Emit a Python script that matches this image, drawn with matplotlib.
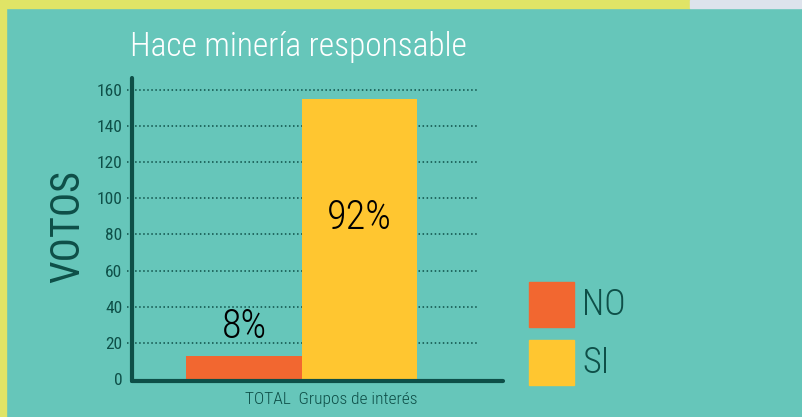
import matplotlib
matplotlib.use("Agg")
import matplotlib.pyplot as plt
from matplotlib import font_manager
from matplotlib.patches import Rectangle

# Data
categories = ['NO', 'SI']
votes = [13, 155]
colors = {'NO': '#F26730', 'SI': '#FFC630'}
group_label = 'TOTAL  Grupos de interés'
title = 'Hace minería responsable'
y_ticks = [0, 20, 40, 60, 80, 100, 120, 140, 160]

bg = '#66C6BA'
dark = '#0E4F48'


# pick the narrowest font that is installed
def pick_font(names):
    for name in names:
        try:
            font_manager.findfont(font_manager.FontProperties(family=name),
                                  fallback_to_default=False)
            return name
        except Exception:
            pass
    return 'DejaVu Sans'


font = pick_font(['Liberation Sans Narrow', 'Roboto Condensed',
                  'Open Sans Condensed', 'Roboto', 'Liberation Sans'])
plt.rcParams['font.family'] = [font, 'DejaVu Sans']

W, H = 802, 417
fig = plt.figure(figsize=(W / 100, H / 100), dpi=100, facecolor=bg)


def fx(px):
    return px / W


def fy(py):
    return 1 - py / H


# border strips
fig.patches.append(Rectangle((0, fy(8)), fx(690), 8 / H, transform=fig.transFigure,
                             color='#E0E466', zorder=0))
fig.patches.append(Rectangle((fx(690), fy(8)), fx(112), 8 / H, transform=fig.transFigure,
                             color='#DDE3EC', zorder=0))
fig.patches.append(Rectangle((0, 0), fx(6), 1, transform=fig.transFigure,
                             color='#E0E466', zorder=0))

# axes area in pixels
left, right, top, bottom = 132, 503, 78, 381
ax = fig.add_axes([fx(left), fy(bottom), fx(right - left), (bottom - top) / H])
ax.set_facecolor('none')

width = 0.4
xpos = [-width / 2, width / 2]
bars = ax.bar(xpos, votes, width=width, color=[colors[c] for c in categories],
              zorder=2)

ax.set_xlim(-0.588, 0.696)
ax.set_ylim(-1.1, 166.6)

# dotted grid lines, slightly sticking out to the left of the axis
ax.hlines(y_ticks[1:], -0.606, 0.609, colors=dark, linestyles=':', linewidth=1.1,
          zorder=1, clip_on=False)

for side in ['top', 'right']:
    ax.spines[side].set_visible(False)
for side in ['left', 'bottom']:
    ax.spines[side].set_color(dark)
    ax.spines[side].set_linewidth(3)
    ax.spines[side].set_capstyle('round')
    ax.spines[side].set_zorder(3)

ax.set_yticks(y_ticks)
ax.set_yticklabels([str(t) for t in y_ticks])
ax.tick_params(axis='y', length=0, pad=7, labelsize=12.5, labelcolor=dark)
ax.set_xticks([])

# percentage labels
total = sum(votes)
pct = [round(v / total * 100) for v in votes]
ax.text(xpos[0], votes[0] + 16, f'{pct[0]}%', ha='center', va='center',
        fontsize=29, fontweight='light', color='black')
ax.text(xpos[1], votes[1] * 0.575, f'{pct[1]}%', ha='center', va='center',
        fontsize=29, fontweight='light', color='black')

# category label under the axis
ax.text(0.1, -11.5, group_label, ha='center', va='center', fontsize=12.5,
        fontweight='light', color=dark, clip_on=False)

# title and axis label
fig.text(fx(130), fy(56), title, ha='left', va='baseline', fontsize=24,
         fontweight='light', color='white')
fig.text(fx(68), fy(227), 'VOTOS', ha='center', va='center', rotation=90,
         fontsize=29, color=dark)

# legend drawn by hand
for name, ytop in zip(categories, [282, 340]):
    fig.patches.append(Rectangle((fx(529), fy(ytop + 45)), fx(45), 45 / H,
                                 transform=fig.transFigure, color=colors[name]))
    fig.text(fx(582), fy(ytop + 23), name, ha='left', va='center', fontsize=26,
             fontweight='light', color=dark)

fig.savefig('out.png', dpi=100, facecolor=bg)
